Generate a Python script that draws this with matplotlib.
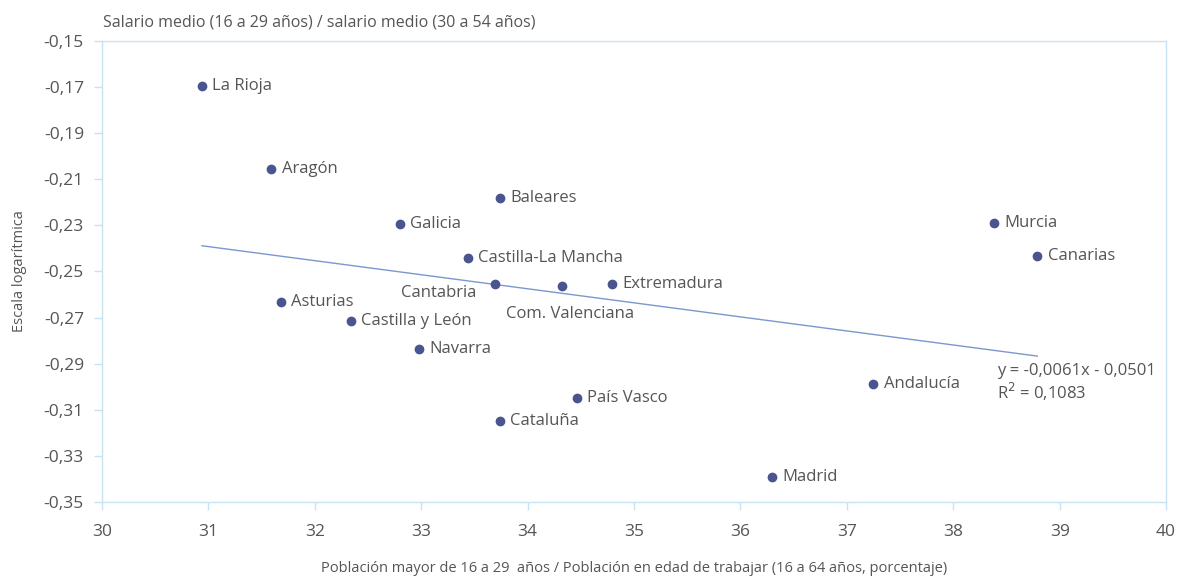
import matplotlib
matplotlib.use('Agg')
import matplotlib.pyplot as plt
from matplotlib.ticker import FuncFormatter

# Regions: share of young population (x) vs. log of young/adult wage ratio (y)
regiones = ['La Rioja', 'Aragón', 'Baleares', 'Galicia', 'Castilla-La Mancha',
            'Cantabria', 'Com. Valenciana', 'Extremadura', 'Asturias',
            'Castilla y León', 'Navarra', 'País Vasco', 'Cataluña', 'Madrid',
            'Andalucía', 'Murcia', 'Canarias']
poblacion = [30.94, 31.59, 33.74, 32.80, 33.44, 33.69, 34.32, 34.79, 31.68,
             32.34, 32.98, 34.46, 33.74, 36.30, 37.25, 38.38, 38.79]
salario = [-0.1695, -0.2055, -0.218, -0.2295, -0.2441, -0.2555, -0.2563, -0.2555,
           -0.2632, -0.2714, -0.2836, -0.3048, -0.3149, -0.3391, -0.2988,
           -0.229, -0.2433]

pendiente = -0.0061
ordenada = -0.0501
r2 = 0.1083

xticks = [30, 31, 32, 33, 34, 35, 36, 37, 38, 39, 40]
yticks = [-0.35, -0.33, -0.31, -0.29, -0.27, -0.25, -0.23, -0.21, -0.19, -0.17, -0.15]

# label placement (offset in points from the dot, horizontal alignment)
offsets = {'Cantabria': (-13, -6.5, 'right'), 'Com. Valenciana': (6, -20, 'center')}

punto = '#4a5590'
linea = '#7c97cf'
texto = '#555555'
marco = '#c6e2f3'

plt.rcParams['font.family'] = ['Open Sans', 'DejaVu Sans']

fig = plt.figure(figsize=(11.79, 5.87), dpi=100)
ax = fig.add_axes([0.0865, 0.145, 0.9025, 0.785])

ax.scatter(poblacion, salario, s=36, color=punto, zorder=3)

x0, x1 = min(poblacion), max(poblacion)
ax.plot([x0, x1], [pendiente * x0 + ordenada, pendiente * x1 + ordenada],
        color=linea, lw=1.0, zorder=2)

for nombre, x, y in zip(regiones, poblacion, salario):
    dx, dy, ha = offsets.get(nombre, (7.5, 0, 'left'))
    ax.annotate(nombre, (x, y), xytext=(dx, dy), textcoords='offset points',
                ha=ha, va='center', fontsize=12, color=texto)

ax.text(38.41, -0.2930, f'y = {pendiente:.4f}x - {abs(ordenada):.4f}'.replace('.', ','),
        fontsize=12, color=texto, va='center')
ax.text(38.41, -0.3022, f'R$^{{2}}$ = {r2:.4f}'.replace('.', ','),
        fontsize=12, color=texto, va='center')

ax.set_xlim(30, 40)
ax.set_ylim(-0.35, -0.15)
ax.set_xticks(xticks)
ax.set_yticks(yticks)
ax.xaxis.set_major_formatter(FuncFormatter(lambda v, p: f'{v:.0f}'))
ax.yaxis.set_major_formatter(FuncFormatter(lambda v, p: f'{v:.2f}'.replace('.', ',')))

for s in ax.spines.values():
    s.set_color(marco)
    s.set_linewidth(1.0)
ax.spines['right'].set_linestyle((0, (2, 1)))
ax.tick_params(axis='both', colors=marco, labelcolor=texto, labelsize=12.5,
               length=6, width=1.0)
ax.tick_params(axis='y', pad=7)
ax.tick_params(axis='x', pad=10)

ax.set_ylabel('Escala logarítmica', fontsize=10.5, color=texto, labelpad=12)
ax.set_xlabel('Población mayor de 16 a 29  años / Población en edad de trabajar (16 a 64 años, porcentaje)',
              fontsize=10.5, color=texto, labelpad=15)
fig.text(0.087, 0.962, 'Salario medio (16 a 29 años) / salario medio (30 a 54 años)',
         fontsize=11.5, color=texto, va='center', ha='left')

fig.savefig('out.png', dpi=100)
